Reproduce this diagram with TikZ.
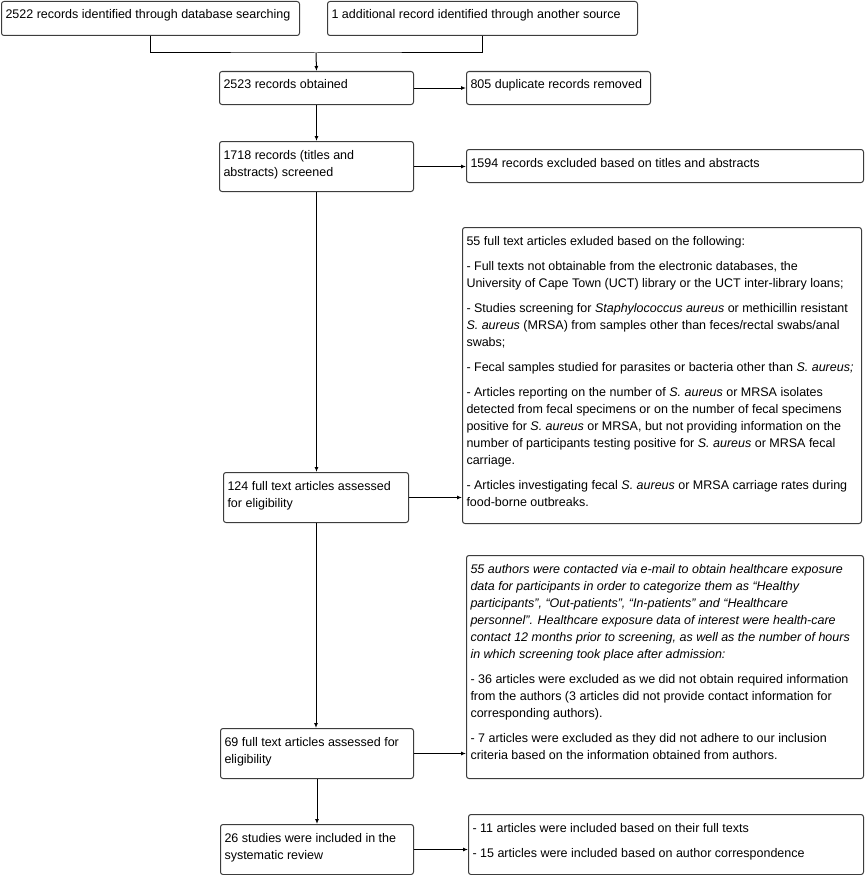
\documentclass[tikz,border=0pt]{standalone}
\usepackage{fontspec}
\setmainfont{Liberation Sans}
\usepackage{tikz}
\usepackage{xcolor}
\usetikzlibrary{positioning,arrows.meta}

\definecolor{framegray}{RGB}{60,60,60}
\newcommand{\flowtext}[3]{\parbox[c][#2pt][t]{#1pt}{\raggedright\rule{0pt}{17.5pt}#3}}

\begin{document}
\begin{tikzpicture}[x=1pt,y=-1pt,
  font=\fontsize{12.5}{17}\selectfont,
  flow/.style={draw=framegray, line width=1pt, rounded corners=2.5pt, anchor=north west, inner xsep=4pt, inner ysep=0pt},
  link/.style={draw=black, line width=1pt},
  arr/.style={link, -{Latex[length=5pt,width=4pt]}}]
\useasboundingbox (0,0) rectangle (866,875);

\node[flow] (search) at (1,1) {\flowtext{290}{34}{2522 records identified through database searching}};
\node[flow] (other) at (327,1) {\flowtext{302}{34}{1 additional record identified through another source}};
\coordinate (merge) at (316,53);
\node[flow] (obtained) at (219,71) {\flowtext{186}{33}{2523 records obtained}};
\node[flow] (dupl) at (466,71) {\flowtext{176}{33}{805 duplicate records removed}};
\node[flow] (screened) at (219,141) {\flowtext{186}{50}{1718 records (titles and\\abstracts) screened}};
\node[flow] (excl) at (466,149) {\flowtext{389}{33}{1594 records excluded based on titles and abstracts}};
\node[flow] (fullexcl) at (462,227) {\flowtext{391}{296}{55 full text articles exluded based on the following:\\[8pt]
- Full texts not obtainable from the electronic databases, the\\
University of Cape Town (UCT) library or the UCT inter-library loans;\\[8pt]
- Studies screening for \textit{Staphylococcus aureus} or methicillin resistant\\
\textit{S. aureus} (MRSA) from samples other than feces/rectal swabs/anal\\
swabs;\\[8pt]
- Fecal samples studied for parasites or bacteria other than \textit{S. aureus;}\\[8pt]
- Articles reporting on the number of \textit{S. aureus} or MRSA isolates\\
detected from fecal specimens or on the number of fecal specimens\\
positive for \textit{S. aureus} or MRSA, but not providing information on the\\
number of participants testing positive for \textit{S. aureus} or MRSA fecal\\
carriage.\\[8pt]
- Articles investigating fecal \textit{S. aureus} or MRSA carriage rates during\\
food-borne outbreaks.}};
\node[flow] (full) at (223,472) {\flowtext{177}{50}{124 full text articles assessed\\for eligibility}};
\node[flow] (contact) at (466,555) {\flowtext{389}{223}{\textit{55 authors were contacted via e-mail to obtain healthcare exposure\\
data for participants in order to categorize them as “Healthy\\
participants”, “Out-patients”, “In-patients” and “Healthcare\\
personnel”. Healthcare exposure data of interest were health-care\\
contact 12 months prior to screening, as well as the number of hours\\
in which screening took place after admission:}\\[8pt]
- 36 articles were excluded as we did not obtain required information\\
from the authors (3 articles did not provide contact information for\\
corresponding authors).\\[8pt]
- 7 articles were excluded as they did not adhere to our inclusion\\
criteria based on the information obtained from authors.}};
\node[flow] (second) at (220,728) {\flowtext{185}{50}{69 full text articles assessed for\\eligibility}};
\node[flow] (incl) at (220,824) {\flowtext{185}{50}{26 studies were included in the\\systematic review}};
\node[flow] (basis) at (468,814) {\flowtext{387}{60}{- 11 articles were included based on their full texts\\[8pt]
- 15 articles were included based on author correspondence}};

\draw[link] (search.south) |- (merge) -| (other.south);
\draw[arr] (merge) -- (obtained.north);
\draw[arr] (obtained.east) -- (dupl.west);
\draw[arr] (obtained.south) -- (obtained.south |- screened.north);
\draw[arr] (screened.east) -- (excl.west |- screened.east);
\draw[arr] (screened.south) -- (screened.south |- full.north);
\draw[arr] (full.east) -- (fullexcl.west |- full.east);
\draw[arr] (full.south) -- (full.south |- second.north);
\draw[arr] (second.east) -- (contact.west |- second.east);
\draw[arr] (second.south) -- (second.south |- incl.north);
\draw[arr] (incl.east) -- (basis.west |- incl.east);
\end{tikzpicture}
\end{document}
